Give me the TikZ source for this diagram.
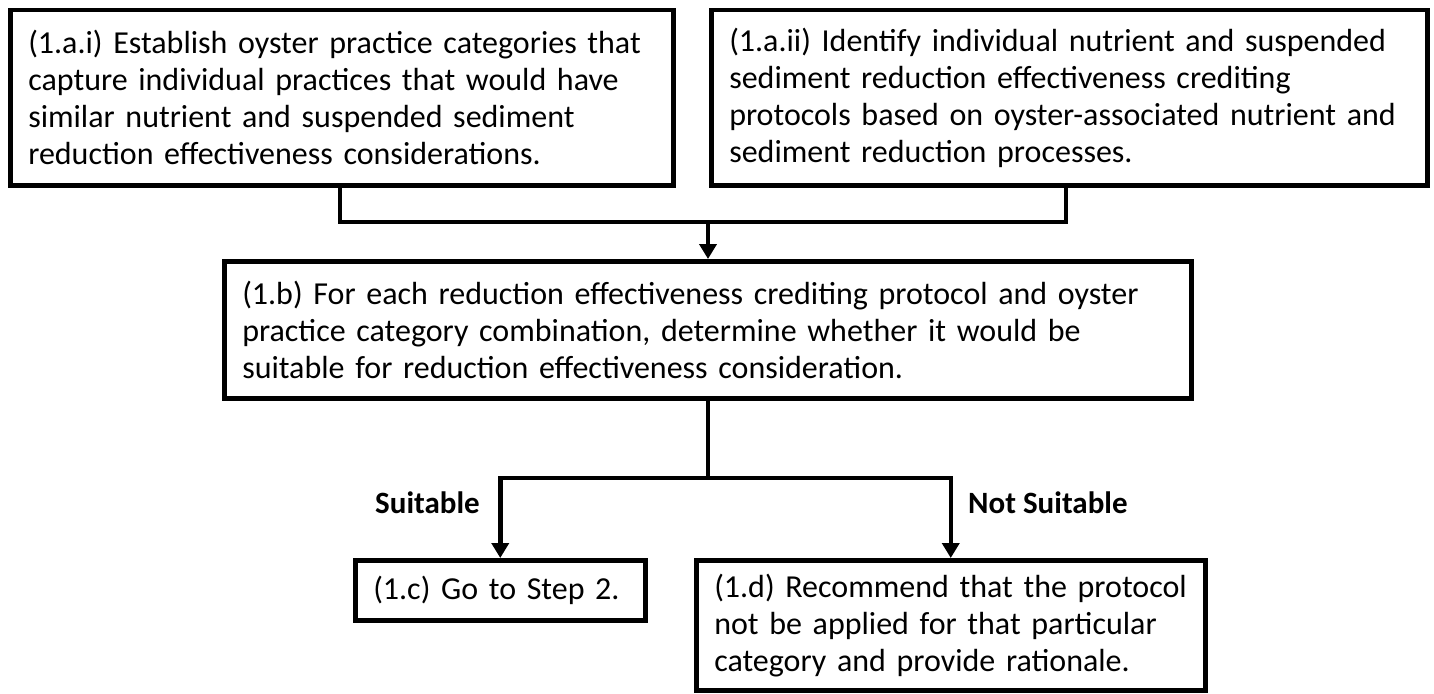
\documentclass[tikz,border=0pt]{standalone}
\usepackage{fontspec}
\setmainfont{Carlito}
\usetikzlibrary{arrows.meta}
\begin{document}
\begin{tikzpicture}[x=1pt,y=-1pt,
  stepbox/.style={draw=black, line width=4.5pt, fill=white, anchor=north west,
    align=left, inner xsep=18pt, inner ysep=0pt,
    font=\fontsize{32}{37}\selectfont},
  link/.style={draw=black, line width=4.5pt},
  arrowlink/.style={link, -{Triangle[length=15pt,width=17pt]}},
  branchlabel/.style={font=\fontsize{31}{36}\selectfont\bfseries, inner sep=0pt}
]
\useasboundingbox (0,0) rectangle (1434,693);

% top row: the two preparation steps
\node[stepbox, minimum width=663pt, minimum height=175pt, text width=627pt] (b1) at (8,8)
  {(1.a.i) Establish oyster practice categories that\\
   capture individual practices that would have\\
   similar nutrient and suspended sediment\\
   reduction effectiveness considerations.};
\node[stepbox, minimum width=716pt, minimum height=175pt, text width=680pt] (b2) at (709,8)
  {(1.a.ii) Identify individual nutrient and suspended\\
   sediment reduction effectiveness crediting\\
   protocols based on oyster-associated nutrient and\\
   sediment reduction processes.};

% middle: suitability decision
\node[stepbox, minimum width=967pt, minimum height=137pt, text width=931pt] (b3) at (222,259)
  {(1.b) For each reduction effectiveness crediting protocol and oyster\\
   practice category combination, determine whether it would be\\
   suitable for reduction effectiveness consideration.};

% bottom: outcomes
\node[stepbox, minimum width=290pt, minimum height=60pt, text width=254pt] (b4) at (353,558)
  {(1.c) Go to Step 2.};
\node[stepbox, minimum width=509pt, minimum height=130pt, text width=473pt] (b5) at (694,558)
  {(1.d) Recommend that the protocol\\
   not be applied for that particular\\
   category and provide rationale.};

% junction points of the connectors
\coordinate (bus) at (708,222);
\coordinate (split) at (708,478);

\draw[link] ([xshift=332pt]b1.south west) |- (bus) -| ([xshift=357pt]b2.south west);
\draw[arrowlink] (bus) -- (bus |- b3.north);
\draw[link] (split |- b3.south) -- (split);
\draw[arrowlink] (split) -| (b4.north);
\draw[arrowlink] (split) -| (b5.north);

\node[branchlabel, anchor=west] (lsuit) at (375,503) {Suitable};
\node[branchlabel, anchor=west] (lnot) at (968,503) {Not Suitable};
\end{tikzpicture}
\end{document}
